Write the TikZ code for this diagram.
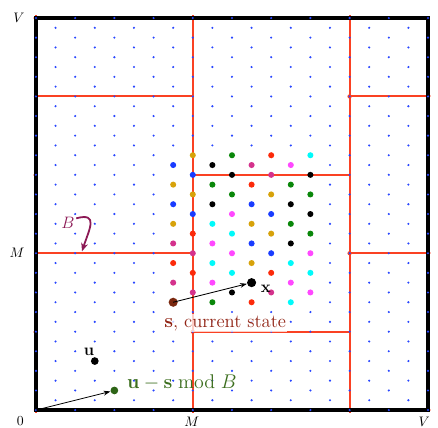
\documentclass[tikz,border=0pt]{standalone}
\usepackage{tikz}
\usetikzlibrary{arrows.meta, positioning}
\usepackage{xcolor}
\definecolor{tilered}{RGB}{250, 65, 35}
\definecolor{latblue}{RGB}{40, 70, 255}
\definecolor{cblue}{RGB}{25, 60, 255}
\definecolor{cgold}{RGB}{215, 162, 10}
\definecolor{cred}{RGB}{252, 42, 10}
\definecolor{cmag}{RGB}{212, 50, 140}
\definecolor{cpink}{RGB}{255, 72, 255}
\definecolor{ccyan}{RGB}{0, 250, 250}
\definecolor{cgreen}{RGB}{10, 135, 10}
\definecolor{sbrown}{RGB}{122, 40, 15}
\definecolor{stext}{RGB}{145, 35, 20}
\definecolor{ugreen}{RGB}{45, 100, 22}
\definecolor{utext}{RGB}{60, 110, 30}
\definecolor{bpurple}{RGB}{140, 25, 85}
\tikzset{
  tline/.style={tilered, line width=1.5pt},
  frame/.style={black, line width=2.4pt},
  bigpt/.style={circle, inner sep=0pt, minimum size=6.6pt},
  smallpt/.style={circle, inner sep=0pt, minimum size=5.6pt},
  lab/.style={inner sep=1pt, font=\large},
  axlab/.style={inner sep=1pt, font=\normalsize},
  arr/.style={-{Stealth[length=5pt, width=3.5pt]}, line width=0.6pt, black},
  barr/.style={-{Stealth[length=6pt, width=5pt]}, line width=1.3pt, color=bpurple},
}

\begin{document}
\begin{tikzpicture}[x=0.25cm, y=0.25cm]
    \useasboundingbox (-3.67,-1.73) rectangle (41.02,41.84);

    \begin{scope}
      \clip (-0.25,-0.25) rectangle (40.25,40.25);
      \foreach \xx in {0,16,32}
        \draw[tline] (\xx,-1) -- (\xx,41);
      \foreach \k in {-1,...,2}
        \foreach \m in {-1,...,3}
          \draw[tline] (16*\k,8*\k+16*\m) -- ++(16,0);
    \end{scope}
    \foreach \p in {(0,0),(0,16),(0,32),(16,8),(16,24),(16,40),(32,0),(32,16),(32,32)}
      \fill[tilered] \p circle (0.22);

    \draw[frame] (0,0) rectangle (40,40);

    \foreach \i in {0,...,20}
      \foreach \j in {0,...,40}
        {\pgfmathparse{int(mod(\i+\j,2))}
         \ifnum\pgfmathresult=0 \fill[latblue] (2*\i,\j) circle (0.12); \fi}

    \foreach \cx/\cy/\cols in {
        14/11/{sbrown,cmag,cred,cmag,cgold,cblue,cgold,cblue},
        16/12/{cmag,cred,cmag,cred,cblue,cgold,cblue,cgold},
        18/11/{cgreen,cpink,ccyan,cpink,ccyan,black,cgreen,black},
        20/12/{black,ccyan,cpink,ccyan,cpink,cgreen,black,cgreen},
        22/11/{cred,black,cgold,cblue,cgold,cblue,cred,cmag},
        24/12/{cmag,cred,cblue,cgold,cblue,cgold,cmag,cred},
        26/11/{ccyan,cpink,ccyan,black,cgreen,black,cgreen,cpink},
        28/12/{cpink,ccyan,cpink,cgreen,black,cgreen,black,ccyan}}
      \foreach \c [count=\j from 0] in \cols
        \fill[\c] (\cx,\cy+2*\j) circle (0.31);

    \coordinate (o) at (0,0);
    \node[bigpt, fill=sbrown] (s) at (14,11) {};
    \node[bigpt, fill=black]  (x) at (22,13) {};
    \node[smallpt, fill=black]  (u) at (6,5) {};
    \node[smallpt, fill=ugreen] (g) at (8,2) {};

    \draw[arr] (s.center) -- (x);
    \draw[arr] (o) -- (g);

    \node[lab, font=\fontsize{13.5}{16}\selectfont, text=stext, fill=white, fill opacity=0.75, text opacity=1] (slab) at (19.3,8.85) {$\mathbf{s}$, current state};
    \node[lab, right=2pt of x, yshift=-4.5pt] (xlab) {$\mathbf{x}$};
    \node[lab, above left=1pt and -3pt of u] (ulab) {$\mathbf{u}$};
    \node[lab, font=\fontsize{14.2}{17}\selectfont, text=utext, right=5pt of g, yshift=5.5pt] (glab) {$\mathbf{u}-\mathbf{s} \bmod B$};

    \node[lab, text=bpurple] (blab) at (3.27,19.1) {$B$};
    \coordinate (btip) at (4.7,16.2);
    \draw[barr] ([yshift=-2pt]blab.north east) to[out=15, in=72, looseness=1.8] (btip);

    \node[axlab, anchor=north] (zero) at (-1.6,-0.5) {$0$};
    \node[axlab, anchor=north] (mb)   at (15.9,-0.5) {$M$};
    \node[axlab, anchor=north] (vb)   at (39.6,-0.5) {$V$};
    \node[axlab, anchor=east]  (ml)   at (-1.0,16) {$M$};
    \node[axlab, anchor=east]  (vl)   at (-1.0,40) {$V$};
\end{tikzpicture}
\end{document}
